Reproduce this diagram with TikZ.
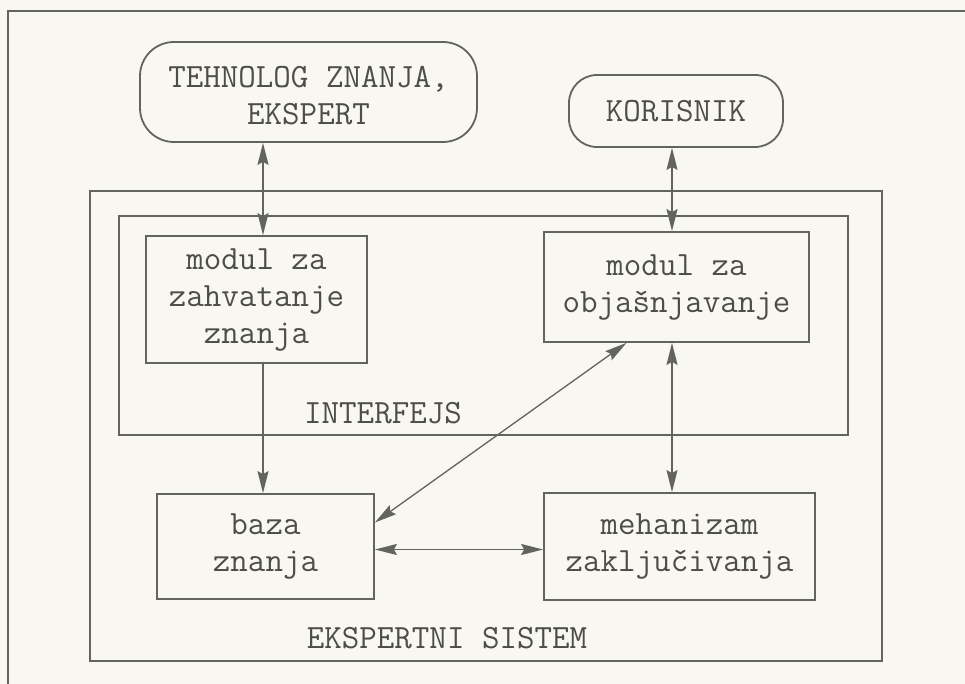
\documentclass[tikz,border=0pt]{standalone}
\usepackage{fontspec}
\usetikzlibrary{arrows.meta,calc}
\definecolor{ink}{RGB}{100,100,94}
\definecolor{txt}{RGB}{78,78,72}
\definecolor{paper}{RGB}{248,248,240}
\begin{document}
\begin{tikzpicture}[x=1pt,y=-1pt,
  lbl/.style={text=txt,font=\ttfamily\fontsize{34}{37}\selectfont,align=center,inner sep=0pt},
  box/.style={lbl,draw=ink,line width=1.8pt},
  term/.style={box,rounded corners=34pt},
  frame/.style={draw=ink,line width=1.8pt,inner sep=0pt},
  tip/.style={-{Stealth[length=22pt,width=11pt,inset=3pt]}},
  dbl/.style={{Stealth[length=22pt,width=11pt,inset=3pt]}-{Stealth[length=22pt,width=11pt,inset=3pt]}},
  conn/.style={draw=ink,fill=ink,line width=1.3pt}]
\fill[paper] (0,0) rectangle (965,684);
\useasboundingbox (0,0) rectangle (965,684);
% page frame
\draw[draw=ink,line width=1.6pt] (8,684) -- (8,11) -- (965,11);
% containers
\node[frame,minimum width=792pt,minimum height=470pt] (es) at (486,426) {};
\node[frame,minimum width=729pt,minimum height=219pt] (intf) at (483.5,325.5) {};
\node[lbl] (esl) at (447,638) {EKSPERTNI SISTEM};
\node[lbl] (intl) at (383,413) {INTERFEJS};
% terminals
\node[term,minimum width=337pt,minimum height=100pt] (tech) at (308.5,92) {};
\node[lbl] (techl) at ([yshift=-4pt]tech.center) {TEHNOLOG ZNANJA,\\EKSPERT};
\node[term,rounded corners=28pt,minimum width=214pt,minimum height=72pt] (kor) at (676,111) {KORISNIK};
% modules
\node[box,minimum width=221pt,minimum height=127pt] (zah) at (256.5,299.5) {modul za\\zahvatanje\\znanja};
\node[box,minimum width=265pt,minimum height=110pt] (obj) at (676.5,287) {modul za\\objašnjavanje};
\node[box,minimum width=217pt,minimum height=105pt] (baza) at (265.5,546.5) {baza\\znanja};
\node[box,minimum width=271pt,minimum height=107pt] (meh) at (679.5,546.5) {mehanizam\\zaključivanja};
% connector columns
\coordinate (cL) at (263,0);
\coordinate (cR) at (672,0);
% connectors
\draw[conn,dbl] (cL |- tech.south) -- (cL |- zah.north);
\draw[conn,dbl] (cR |- kor.south) -- (cR |- obj.north);
\draw[conn,tip] (cL |- zah.south) -- (cL |- baza.north);
\draw[conn,dbl] (cR |- obj.south) -- (cR |- meh.north);
\draw[conn,dbl] ([yshift=24pt]baza.east) -- ([xshift=-50pt]obj.south);
\draw[conn,dbl,line width=1.8pt] ([yshift=-3pt]baza.east) -- ([yshift=-3pt]meh.west);
\end{tikzpicture}
\end{document}
